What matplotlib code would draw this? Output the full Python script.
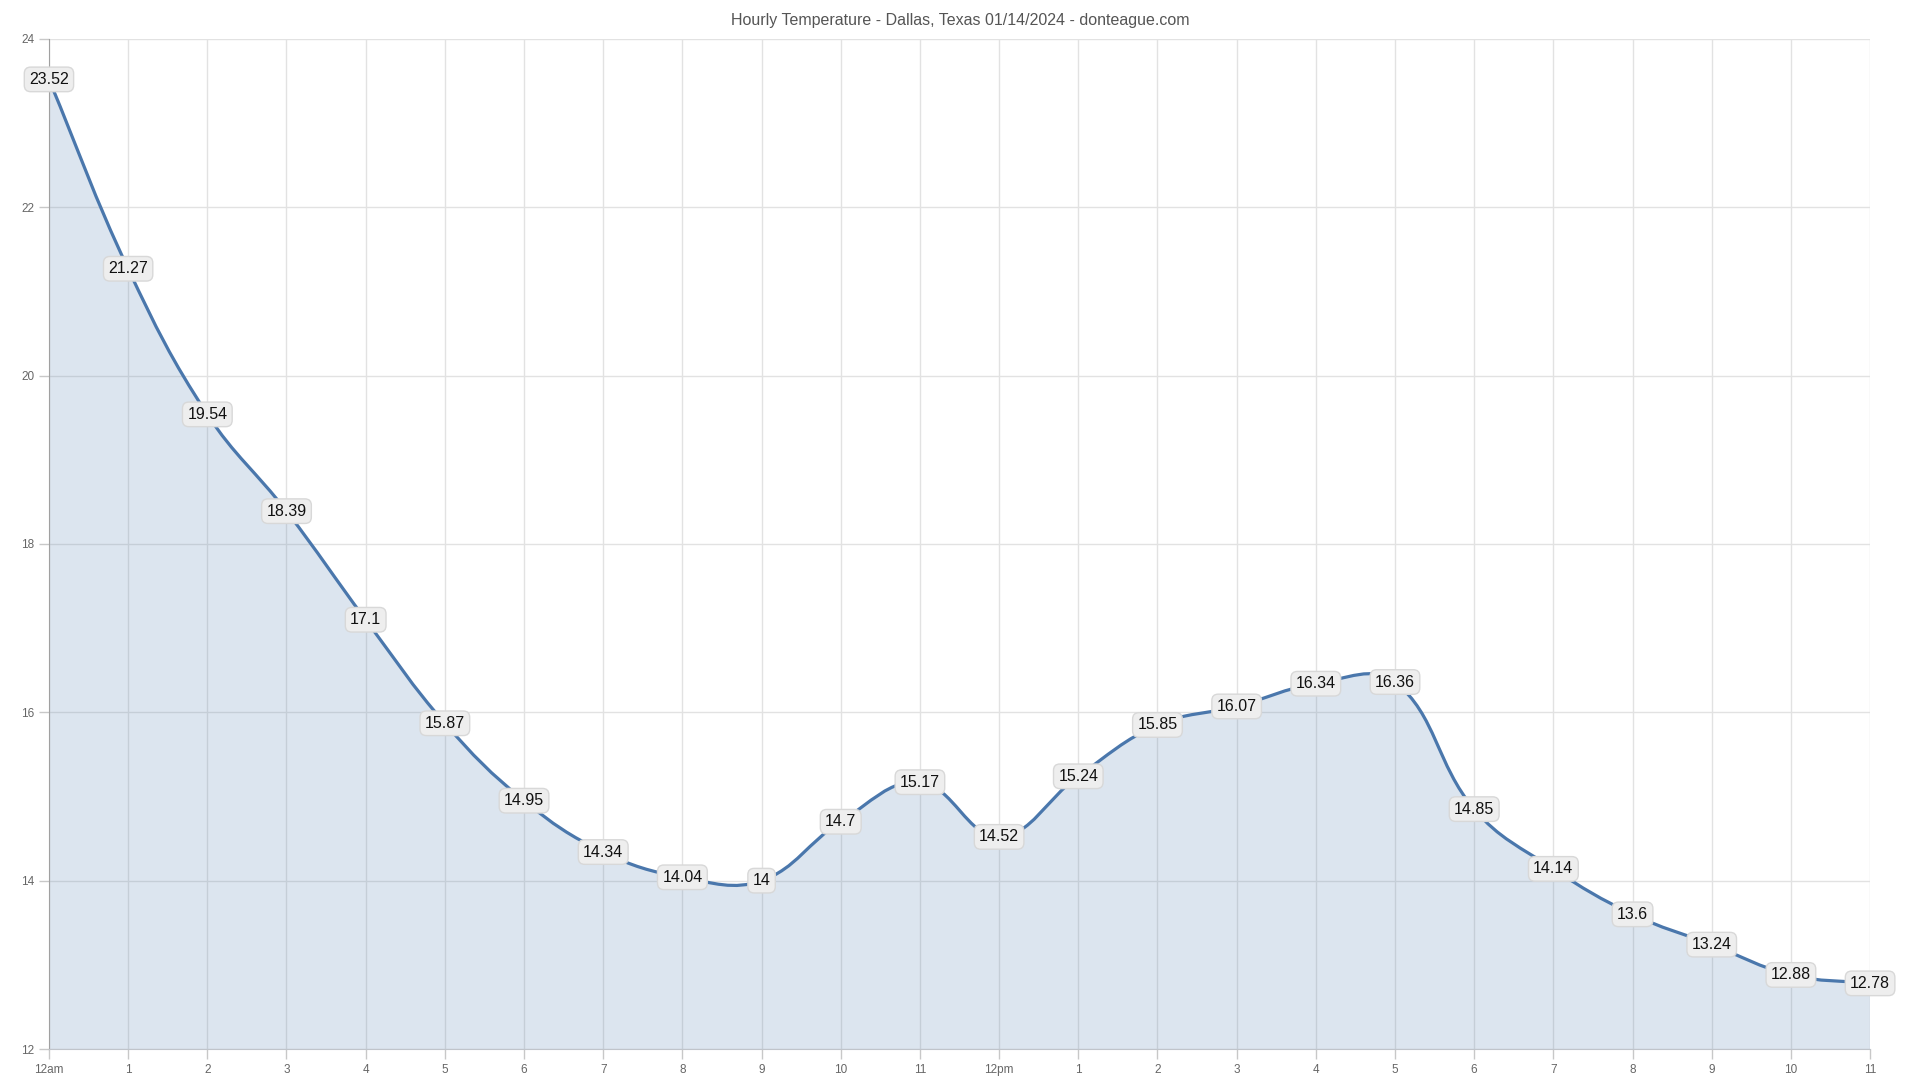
import matplotlib
matplotlib.use("Agg")
import matplotlib.pyplot as plt
from matplotlib.path import Path
from matplotlib.patches import PathPatch

HOURS = list(range(24))
HOUR_LABELS = ["12am", "1", "2", "3", "4", "5", "6", "7", "8", "9", "10", "11",
               "12pm", "1", "2", "3", "4", "5", "6", "7", "8", "9", "10", "11"]
TEMPS = [23.52, 21.27, 19.54, 18.39, 17.1, 15.87, 14.95, 14.34, 14.04, 14, 14.7, 15.17,
         14.52, 15.24, 15.85, 16.07, 16.34, 16.36, 14.85, 14.14, 13.6, 13.24, 12.88, 12.78]
Y_TICKS = [12, 14, 16, 18, 20, 22, 24]

LINE_COLOR = "#4a77ac"
FILL_COLOR = (0.29, 0.47, 0.67, 0.19)
GRID_COLOR = "#e2e2e2"
TICK_INK = "#666666"
TITLE_INK = "#555555"
TENSION = 0.4


def spline_path(xs, ys, sx, sy, baseline=None):
    # chart.js style bezier through the points (distances measured in pixels)
    n = len(xs)
    ctrl = []
    for i in range(n):
        p0 = (xs[max(i - 1, 0)], ys[max(i - 1, 0)])
        p1 = (xs[i], ys[i])
        p2 = (xs[min(i + 1, n - 1)], ys[min(i + 1, n - 1)])
        d01 = ((sx * (p1[0] - p0[0])) ** 2 + (sy * (p1[1] - p0[1])) ** 2) ** 0.5
        d12 = ((sx * (p2[0] - p1[0])) ** 2 + (sy * (p2[1] - p1[1])) ** 2) ** 0.5
        tot = d01 + d12
        s01 = d01 / tot if tot else 0
        s12 = d12 / tot if tot else 0
        fa, fb = TENSION * s01, TENSION * s12
        dx, dy = p2[0] - p0[0], p2[1] - p0[1]
        ctrl.append(((p1[0] - fa * dx, p1[1] - fa * dy), (p1[0] + fb * dx, p1[1] + fb * dy)))
    verts = [(xs[0], ys[0])]
    codes = [Path.MOVETO]
    for i in range(1, n):
        verts += [ctrl[i - 1][1], ctrl[i][0], (xs[i], ys[i])]
        codes += [Path.CURVE4] * 3
    if baseline is not None:
        verts += [(xs[-1], baseline), (xs[0], baseline), (xs[0], ys[0])]
        codes += [Path.LINETO, Path.LINETO, Path.CLOSEPOLY]
    return Path(verts, codes)


fig = plt.figure(figsize=(19.2, 10.8), dpi=100, facecolor="white")
ax = fig.add_axes([0.0255, 0.0287, 0.9485, 0.9352])
ax.set_xlim(HOURS[0], HOURS[-1])
ax.set_ylim(Y_TICKS[0], Y_TICKS[-1])

sx = 1821 / (HOURS[-1] - HOURS[0])
sy = 1010 / (Y_TICKS[-1] - Y_TICKS[0])

ax.add_patch(PathPatch(spline_path(HOURS, TEMPS, sx, sy, baseline=Y_TICKS[0]),
                       facecolor=FILL_COLOR, edgecolor="none", zorder=2))
ax.add_patch(PathPatch(spline_path(HOURS, TEMPS, sx, sy),
                       facecolor="none", edgecolor=LINE_COLOR, linewidth=2.3, zorder=3))

for h, t in zip(HOURS, TEMPS):
    ax.text(h, t, f"{t:g}", ha="center", va="center", fontsize=11.5, color="#111111",
            family="Liberation Sans", zorder=5,
            bbox=dict(boxstyle="round,pad=0.3,rounding_size=0.4", facecolor="#eeeeee",
                      edgecolor="#d8d8d8", linewidth=1))

ax.set_xticks(HOURS)
ax.set_xticklabels(HOUR_LABELS)
ax.set_yticks(Y_TICKS)
ax.tick_params(axis="both", colors="#c8c8c8", labelcolor=TICK_INK, labelsize=8.5, length=7, width=1)
for lbl in ax.get_xticklabels() + ax.get_yticklabels():
    lbl.set_family("Liberation Sans")
ax.grid(True, color=GRID_COLOR, linewidth=1, zorder=0)
ax.set_axisbelow(True)
for side in ("top", "right"):
    ax.spines[side].set_visible(False)
ax.spines["left"].set_color("#a0a0a0")
ax.spines["bottom"].set_color("#c0c4ca")

fig.text(0.5, 0.981, "Hourly Temperature - Dallas, Texas 01/14/2024 - donteague.com",
         ha="center", va="center", fontsize=11.5, color=TITLE_INK, family="Liberation Sans")

fig.savefig("out.png", dpi=100, facecolor="white")
